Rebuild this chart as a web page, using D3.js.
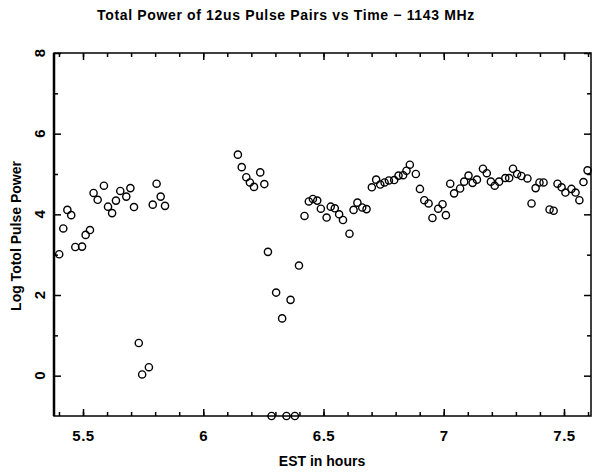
<!DOCTYPE html>
<html>
<head>
<meta charset="utf-8">
<script src="https://cdn.jsdelivr.net/npm/d3@7"></script>
<style>
  body { margin: 0; background: #fff; }
  svg { display: block; font-family: "Liberation Sans", Arial, sans-serif; }
</style>
</head>
<body>
<svg id="chart"></svg>
<script>
// EST hour of each pulse-pair sample
const hours = [
  5.401, 5.418, 5.435, 5.451, 5.468, 5.496, 5.511, 5.529, 5.544, 5.561, 5.587, 5.604, 5.621,
  5.637, 5.655, 5.680, 5.697, 5.712, 5.732, 5.746, 5.774, 5.790, 5.806, 5.823, 5.841,
  6.144, 6.160, 6.179, 6.194, 6.211, 6.237, 6.254,
  6.269, 6.284, 6.303, 6.328, 6.346, 6.363, 6.381, 6.398,
  6.421, 6.439, 6.456, 6.474, 6.489, 6.513, 6.530, 6.547, 6.565, 6.581, 6.608, 6.625, 6.641, 6.661, 6.679,
  6.701, 6.719, 6.736, 6.754, 6.772, 6.794, 6.812, 6.831, 6.845, 6.859, 6.884, 6.901,
  6.919, 6.937, 6.953, 6.977, 6.995, 7.009, 7.027, 7.043, 7.068, 7.085, 7.103, 7.120, 7.138,
  7.163, 7.179, 7.196, 7.212, 7.230, 7.256, 7.272, 7.288, 7.305, 7.323, 7.348, 7.365, 7.382, 7.398, 7.415,
  7.440, 7.457, 7.473, 7.490, 7.506, 7.531, 7.548, 7.564, 7.581, 7.598
];
// log total pulse power
const power = [
  3.01, 3.65, 4.11, 3.98, 3.19, 3.20, 3.49, 3.61, 4.53, 4.36, 4.71, 4.19, 4.03,
  4.34, 4.58, 4.44, 4.65, 4.18, 0.81, 0.03, 0.21, 4.24, 4.76, 4.44, 4.21,
  5.48, 5.17, 4.92, 4.79, 4.68, 5.04, 4.75,
  3.07, -1, 2.06, 1.42, -1, 1.88, -1, 2.73,
  3.96, 4.32, 4.38, 4.34, 4.14, 3.92, 4.19, 4.15, 4.00, 3.86, 3.52, 4.11, 4.29, 4.17, 4.13,
  4.67, 4.86, 4.74, 4.79, 4.84, 4.85, 4.96, 4.97, 5.08, 5.23, 5.00, 4.63,
  4.35, 4.27, 3.91, 4.14, 4.25, 3.98, 4.76, 4.52, 4.64, 4.81, 4.96, 4.78, 4.86,
  5.13, 5.02, 4.81, 4.71, 4.81, 4.90, 4.90, 5.13, 5.00, 4.95, 4.89, 4.27, 4.65, 4.79, 4.79,
  4.12, 4.09, 4.76, 4.67, 4.54, 4.63, 4.54, 4.35, 4.80, 5.09
];
const xTicks = [5.5, 6, 6.5, 7, 7.5];
const xMinor = d3.range(5.4, 7.65, 0.1).map(d => +d.toFixed(1));
const yTicks = [0, 2, 4, 6, 8];
const yMinor = [1, 3, 5, 7];

const titleText = "Total Power of 12us Pulse Pairs vs Time \u2212 1143 MHz";
const xLabel = "EST in hours";
const yLabel = "Log Totol Pulse Power";

const width = 592, height = 475;
const plotL = 54, plotR = 591, plotT = 53, plotB = 416;

const data = hours.map((h, i) => ({ h: h, p: power[i] }));

const x = d3.scaleLinear().domain([5.3794, 7.6123]).range([plotL, plotR]);
const y = d3.scaleLinear().domain([-1, 8]).range([plotB, plotT]);

const svg = d3.select("#chart").attr("width", width).attr("height", height);

// frame
svg.append("rect")
  .attr("x", plotL).attr("y", plotT)
  .attr("width", plotR - plotL).attr("height", plotB - plotT)
  .attr("fill", "none").attr("stroke", "#000").attr("stroke-width", 1.5);
svg.append("line")
  .attr("x1", plotL).attr("x2", plotL).attr("y1", plotT).attr("y2", plotB)
  .attr("stroke", "#000").attr("stroke-width", 2.5);

function addAxis(axis, tr, cls) {
  const g = svg.append("g").attr("class", cls).attr("transform", tr).call(axis);
  g.select(".domain").remove();
  g.selectAll(".tick line").attr("stroke", "#000").attr("stroke-width", 1.5);
  return g;
}

// bottom + top
const xb = addAxis(d3.axisBottom(x).tickValues(xTicks).tickSize(-7).tickPadding(14).tickFormat(d3.format("")),
  `translate(0,${plotB})`, "x-axis");
xb.selectAll("text").attr("font-size", 15).attr("font-weight", "bold").attr("fill", "#000")
  .attr("letter-spacing", "0.5px").attr("dy", "0.71em");
addAxis(d3.axisBottom(x).tickValues(xMinor).tickSize(-4).tickFormat(""), `translate(0,${plotB})`, "x-minor");
addAxis(d3.axisTop(x).tickValues(xTicks).tickSize(-7).tickFormat(""), `translate(0,${plotT})`, "x-top");
addAxis(d3.axisTop(x).tickValues(xMinor).tickSize(-4).tickFormat(""), `translate(0,${plotT})`, "x-top-minor");

// left + right
addAxis(d3.axisLeft(y).tickValues(yTicks).tickSize(-7).tickFormat(""), `translate(${plotL},0)`, "y-axis");
addAxis(d3.axisLeft(y).tickValues(yMinor).tickSize(-4).tickFormat(""), `translate(${plotL},0)`, "y-minor");
addAxis(d3.axisRight(y).tickValues(yTicks).tickSize(-7).tickFormat(""), `translate(${plotR},0)`, "y-right");
addAxis(d3.axisRight(y).tickValues(yMinor).tickSize(-4).tickFormat(""), `translate(${plotR},0)`, "y-right-minor");

// rotated y tick labels
svg.append("g").selectAll("text")
  .data(yTicks)
  .enter()
  .append("text")
    .attr("transform", d => `translate(45,${y(d)}) rotate(-90)`)
    .attr("text-anchor", "middle")
    .attr("font-size", 15)
    .attr("font-weight", "bold")
    .text(d => d);

// points
svg.append("g").selectAll("circle")
  .data(data)
  .enter()
  .append("circle")
    .attr("cx", d => x(d.h))
    .attr("cy", d => y(d.p))
    .attr("r", 3.6)
    .attr("fill", "none")
    .attr("stroke", "#000")
    .attr("stroke-width", 1.4);

// titles
svg.append("text")
  .attr("x", 286).attr("y", 20)
  .attr("text-anchor", "middle")
  .attr("font-size", 14)
  .attr("font-weight", "bold")
  .attr("letter-spacing", "0.65px")
  .text(titleText);

svg.append("text")
  .attr("x", 322).attr("y", 466)
  .attr("text-anchor", "middle")
  .attr("font-size", 14)
  .attr("font-weight", "bold")
  .text(xLabel);

svg.append("text")
  .attr("transform", "translate(21,236) rotate(-90)")
  .attr("text-anchor", "middle")
  .attr("font-size", 14)
  .attr("font-weight", "bold")
  .text(yLabel);
</script>
</body>
</html>
